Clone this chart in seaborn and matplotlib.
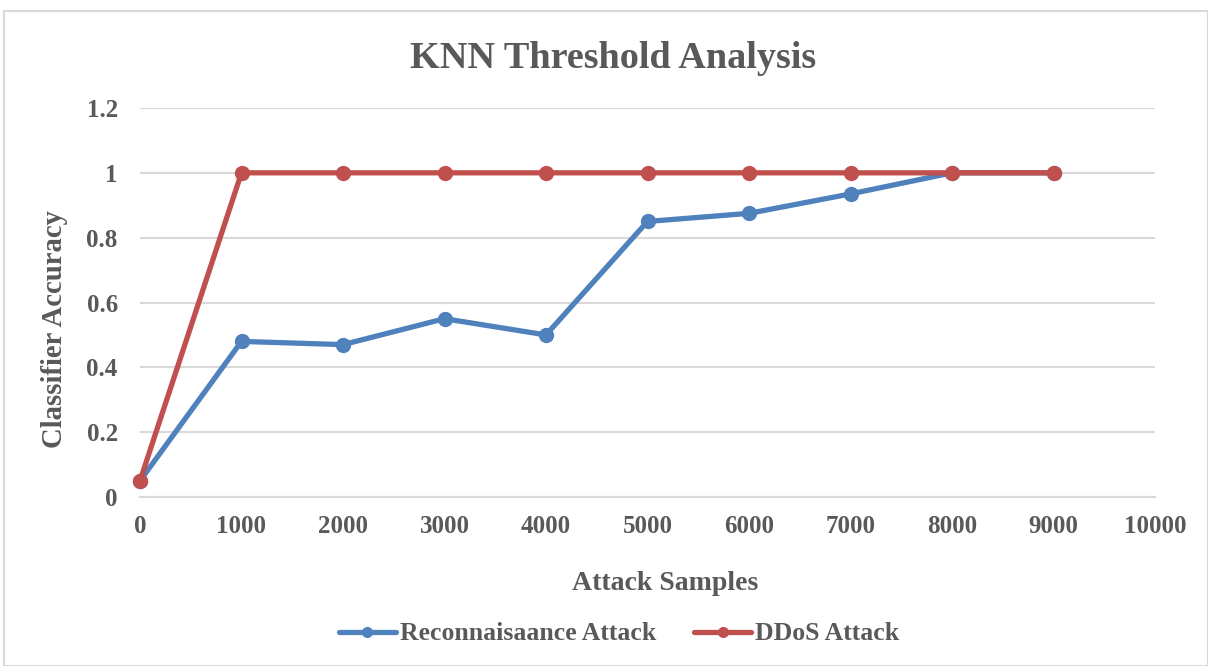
import matplotlib
matplotlib.use("Agg")
import matplotlib.pyplot as plt
import seaborn as sns
import pandas as pd
from matplotlib.patches import Rectangle

samples = [0, 1000, 2000, 3000, 4000, 5000, 6000, 7000, 8000, 9000]
recon_acc = [0.05, 0.48, 0.47, 0.55, 0.50, 0.85, 0.875, 0.935, 1.0, 1.0]
ddos_acc = [0.05, 1.0, 1.0, 1.0, 1.0, 1.0, 1.0, 1.0, 1.0, 1.0]
series_names = ["Reconnaisaance Attack", "DDoS Attack"]
x_ticks = [0, 1000, 2000, 3000, 4000, 5000, 6000, 7000, 8000, 9000, 10000]
y_ticks = [0, 0.2, 0.4, 0.6, 0.8, 1.0, 1.2]
y_tick_labels = ["0", "0.2", "0.4", "0.6", "0.8", "1", "1.2"]

df = pd.DataFrame({
    "Attack Samples": samples * 2,
    "Classifier Accuracy": recon_acc + ddos_acc,
    "Series": [series_names[0]] * len(samples) + [series_names[1]] * len(samples),
})

sns.set_theme(style="white")
serif = ["Liberation Serif", "DejaVu Serif"]
plt.rcParams["font.family"] = serif
text_color = "#595959"
palette = {series_names[0]: "#4F81BD", series_names[1]: "#C0504D"}

W, H = 1208, 666
fig = plt.figure(figsize=(W / 100, H / 100), dpi=100)
fig.patches.append(Rectangle((4 / W, 0), 1 - 4 / W, 1 - 11 / H,
                             transform=fig.transFigure, fill=False,
                             edgecolor="#D9D9D9", linewidth=1.5))
ax = fig.add_axes([140 / W, 1 - 497 / H, (1155 - 140) / W, (497 - 108) / H])

sns.lineplot(data=df, x="Attack Samples", y="Classifier Accuracy", hue="Series",
             palette=palette, marker="o", markersize=11, markeredgewidth=0,
             linewidth=3.8, ax=ax, legend=True, clip_on=False)

ax.set_xlim(0, 10000)
ax.set_ylim(0, 1.2)
ax.set_xticks(x_ticks)
ax.set_xticklabels([str(t) for t in x_ticks])
ax.set_yticks(y_ticks)
ax.set_yticklabels(y_tick_labels)
ax.yaxis.grid(True, color="#D9D9D9", linewidth=1.5)
ax.xaxis.grid(False)
for s in ["top", "right", "left"]:
    ax.spines[s].set_visible(False)
ax.spines["bottom"].set_color("#D9D9D9")
ax.spines["bottom"].set_linewidth(1.5)
ax.tick_params(axis="both", length=0, labelsize=18, labelcolor=text_color)
ax.tick_params(axis="x", pad=13)
ax.tick_params(axis="y", pad=16)
for lab in ax.get_xticklabels() + ax.get_yticklabels():
    lab.set_fontweight("bold")

# axis titles and chart title placed in figure pixels
ax.set_xlabel("")
ax.set_ylabel("")
fig.text(665 / W, 1 - 584 / H, "Attack Samples", ha="center", va="center",
         fontsize=20, fontweight="bold", color=text_color)
fig.text(54 / W, 1 - 329 / H, "Classifier Accuracy", ha="center", va="center",
         rotation=90, fontsize=20.7, fontweight="bold", color=text_color)
fig.text(613 / W, 1 - 58 / H, "KNN Threshold Analysis", ha="center", va="center",
         fontsize=27.5, fontweight="bold", color=text_color)

handles, labels = ax.get_legend_handles_labels()
for h in handles:
    h.set_markersize(8)
ax.legend(handles, labels, loc="center", bbox_to_anchor=(619 / W, 1 - 634 / H),
          bbox_transform=fig.transFigure, ncol=2, frameon=False, handlelength=2.2,
          handletextpad=0.15, columnspacing=1.5,
          prop={"size": 18.5, "weight": "bold", "family": serif},
          labelcolor=text_color)

fig.savefig("out.png", dpi=100)
